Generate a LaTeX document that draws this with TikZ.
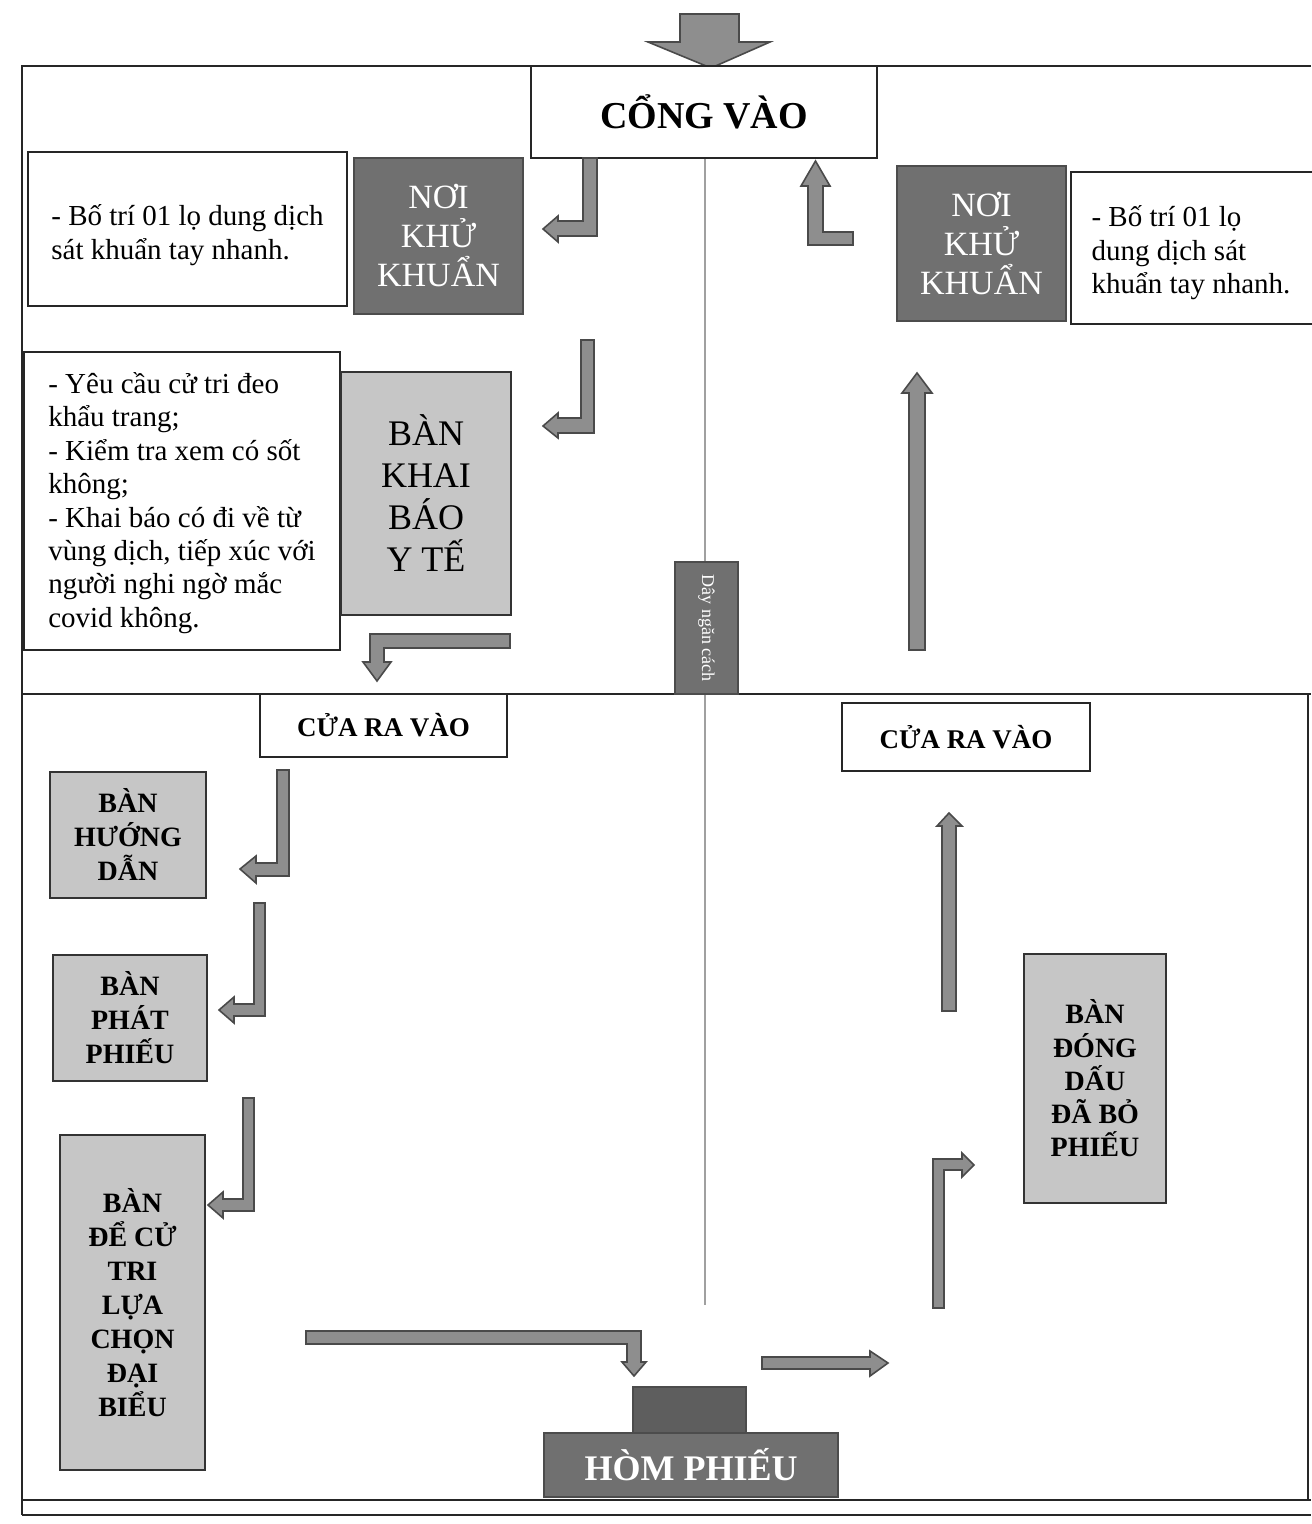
\documentclass[tikz,border=0pt]{standalone}
\usepackage{fontspec}
\setmainfont{Liberation Serif}
\usetikzlibrary{fit}
\definecolor{darkfill}{HTML}{707070}
\definecolor{darkerfill}{HTML}{5E5E5E}
\definecolor{lightfill}{HTML}{C6C6C6}
\definecolor{arrowfill}{HTML}{8E8E8E}
\definecolor{arrowedge}{HTML}{4A4A4A}
\definecolor{ropegray}{HTML}{A0A0A0}
\begin{document}
\begin{tikzpicture}[x=0.5pt,y=-0.5pt,
  frameline/.style={line width=1.2pt, draw=black!85},
  whitebox/.style={draw=black!85, line width=1pt, fill=white, inner sep=0pt},
  darkbox/.style={draw=black!70, line width=1pt, fill=darkfill, inner sep=0pt},
  lightbox/.style={draw=black!80, line width=1pt, fill=lightfill, inner sep=0pt},
  darktext/.style={text=white, align=center, inner sep=0pt, font=\fontsize{17}{19.5}\selectfont},
  tabletext/.style={align=center, inner sep=0pt, font=\bfseries\fontsize{14}{17}\selectfont},
  doortext/.style={inner sep=0pt, font=\bfseries\fontsize{13.5}{16}\selectfont},
  notetext/.style={align=left, inner sep=0pt, font=\fontsize{14.5}{16.7}\selectfont},
  barrow/.style={fill=arrowfill, draw=arrowedge, line width=0.8pt, line join=miter},
  rope/.style={draw=ropegray, line width=1.4pt}
]
\useasboundingbox (0,0) rectangle (1311,1524);
\fill[white] (0,0) rectangle (1311,1524);

% frame
\coordinate (tl) at (22,66);
\coordinate (tr) at (1311,66);
\coordinate (ml) at (22,694);
\coordinate (mr) at (1311,694);
\coordinate (rb) at (1308,694);
\coordinate (b1) at (22,1500);
\coordinate (b2) at (22,1515);
\draw[frameline] (tr) -- (tl) -- (b2);
\draw[frameline] (ml) -- (mr);
\draw[frameline] (rb) -- (rb |- b1);
\draw[frameline] (b1) -- (b1 -| tr);
\draw[frameline] (b2) -- (b2 -| tr);

% entry arrow
\draw[barrow] (680,14) -- (739,14) -- (739,42) -- (770,42) -- (711,68) -- (648,42) -- (680,42) -- cycle;

% gate
\node[whitebox, fit={(531,66) (877,158)}] (cong) {};
\node[inner sep=0pt, font=\bfseries\fontsize{19}{22}\selectfont] (congtext) at (cong.center) {CỔNG VÀO};

% rope
\coordinate (ropeend) at (705,1305);
\draw[rope] (cong.south -| ropeend) -- (ropeend);
\node[darkbox, fit={(675,562) (738,694)}] (ropebox) {};
\node[rotate=-90, text=white, font=\fontsize{9}{10}\selectfont] (ropetext) at (ropebox.center) {Dây ngăn cách};

% top left
\node[whitebox, fit={(28,152) (347,306)}] (note1) {};
\node[notetext] (note1text) at ([yshift=-3pt]note1.center) {- Bố trí 01 lọ dung dịch\\sát khuẩn tay nhanh.};
\node[darkbox, fit={(354,158) (523,314)}] (khu1) {};
\node[darktext] (khu1text) at (khu1.center) {NƠI\\KHỬ\\KHUẨN};

% top right
\node[darkbox, fit={(897,166) (1066,321)}] (khu2) {};
\node[darktext] (khu2text) at (khu2.center) {NƠI\\KHỬ\\KHUẨN};
\node[whitebox, fit={(1071,172) (1320,324)}] (note2) {};
\node[notetext] (note2text) at (1191,253) {- Bố trí 01 lọ\\dung dịch sát\\khuẩn tay nhanh.};

% medical declaration
\node[whitebox, fit={(24,352) (340,650)}] (note3) {};
\node[notetext] (note3text) at ([yshift=-1pt]note3.center) {- Yêu cầu cử tri đeo\\khẩu trang;\\- Kiểm tra xem có sốt\\không;\\- Khai báo có đi về từ\\vùng dịch, tiếp xúc với\\người nghi ngờ mắc\\covid không.};
\node[lightbox, fit={(341,372) (511,615)}] (khaibao) {};
\node[align=center, inner sep=0pt, font=\fontsize{18}{21}\selectfont] (khaibaotext) at (khaibao.center) {BÀN\\KHAI\\BÁO\\Y TẾ};

% doors
\node[whitebox, fit={(260,694) (507,757)}] (door1) {};
\node[doortext] (door1text) at (door1.center) {CỬA RA VÀO};
\node[whitebox, fit={(842,703) (1090,771)}] (door2) {};
\node[doortext] (door2text) at (door2.center) {CỬA RA VÀO};

% tables
\node[lightbox, fit={(50,772) (206,898)}] (huongdan) {};
\node[tabletext] (huongdantext) at (huongdan.center) {BÀN\\HƯỚNG\\DẪN};
\node[lightbox, fit={(53,955) (207,1081)}] (phatphieu) {};
\node[tabletext] (phatphieutext) at (phatphieu.center) {BÀN\\PHÁT\\PHIẾU};
\node[lightbox, fit={(60,1135) (205,1470)}] (luachon) {};
\node[tabletext] (luachontext) at (luachon.center) {BÀN\\ĐỂ CỬ\\TRI\\LỰA\\CHỌN\\ĐẠI\\BIỂU};
\node[lightbox, fit={(1024,954) (1166,1203)}] (dongdau) {};
\node[tabletext, font=\bfseries\fontsize{14}{16.6}\selectfont] (dongdautext) at (dongdau.center) {BÀN\\ĐÓNG\\DẤU\\ĐÃ BỎ\\PHIẾU};

% ballot box
\node[draw=black!70, line width=1pt, fill=darkerfill, inner sep=0pt, fit={(633,1387) (746,1433)}] (homtop) {};
\node[darkbox, fit={(544,1433) (838,1497)}] (hom) {};
\node[text=white, inner sep=0pt, font=\bfseries\fontsize{18}{20}\selectfont] (homtext) at (hom.center) {HÒM PHIẾU};

% flow arrows, left side (entry)
\draw[barrow] (583,158) -- (597,158) -- (597,236) -- (558,236) -- (558,242) -- (543,229) -- (558,216) -- (558,221) -- (583,221) -- cycle;
\draw[barrow] (581,340) -- (594,340) -- (594,433) -- (558,433) -- (558,438) -- (543,426) -- (558,413) -- (558,418) -- (581,418) -- cycle;
\draw[barrow] (510,634) -- (510,648) -- (384,648) -- (384,662) -- (391,662) -- (377,681) -- (363,662) -- (370,662) -- (370,634) -- cycle;
\draw[barrow] (277,770) -- (289,770) -- (289,876) -- (256,876) -- (256,883) -- (240,869) -- (256,856) -- (256,863) -- (277,863) -- cycle;
\draw[barrow] (254,903) -- (265,903) -- (265,1016) -- (234,1016) -- (234,1023) -- (219,1010) -- (234,997) -- (234,1004) -- (254,1004) -- cycle;
\draw[barrow] (243,1098) -- (254,1098) -- (254,1211) -- (223,1211) -- (223,1218) -- (208,1205) -- (223,1192) -- (223,1199) -- (243,1199) -- cycle;
\draw[barrow] (306,1331) -- (641,1331) -- (641,1362) -- (646,1362) -- (634,1376) -- (622,1362) -- (627,1362) -- (627,1344) -- (306,1344) -- cycle;

% flow arrows, right side (exit)
\draw[barrow] (762,1357) -- (870,1357) -- (870,1351) -- (888,1363) -- (870,1376) -- (870,1369) -- (762,1369) -- cycle;
\draw[barrow] (933,1308) -- (933,1159) -- (962,1159) -- (962,1153) -- (974,1165) -- (962,1177) -- (962,1170) -- (944,1170) -- (944,1308) -- cycle;
\draw[barrow] (942,1011) -- (942,826) -- (937,826) -- (949,813) -- (962,826) -- (956,826) -- (956,1011) -- cycle;
\draw[barrow] (909,650) -- (909,393) -- (902,393) -- (917,373) -- (932,393) -- (925,393) -- (925,650) -- cycle;
\draw[barrow] (853,232) -- (853,245) -- (808,245) -- (808,186) -- (801,186) -- (815.5,161) -- (830,186) -- (823,186) -- (823,232) -- cycle;
\end{tikzpicture}
\end{document}
